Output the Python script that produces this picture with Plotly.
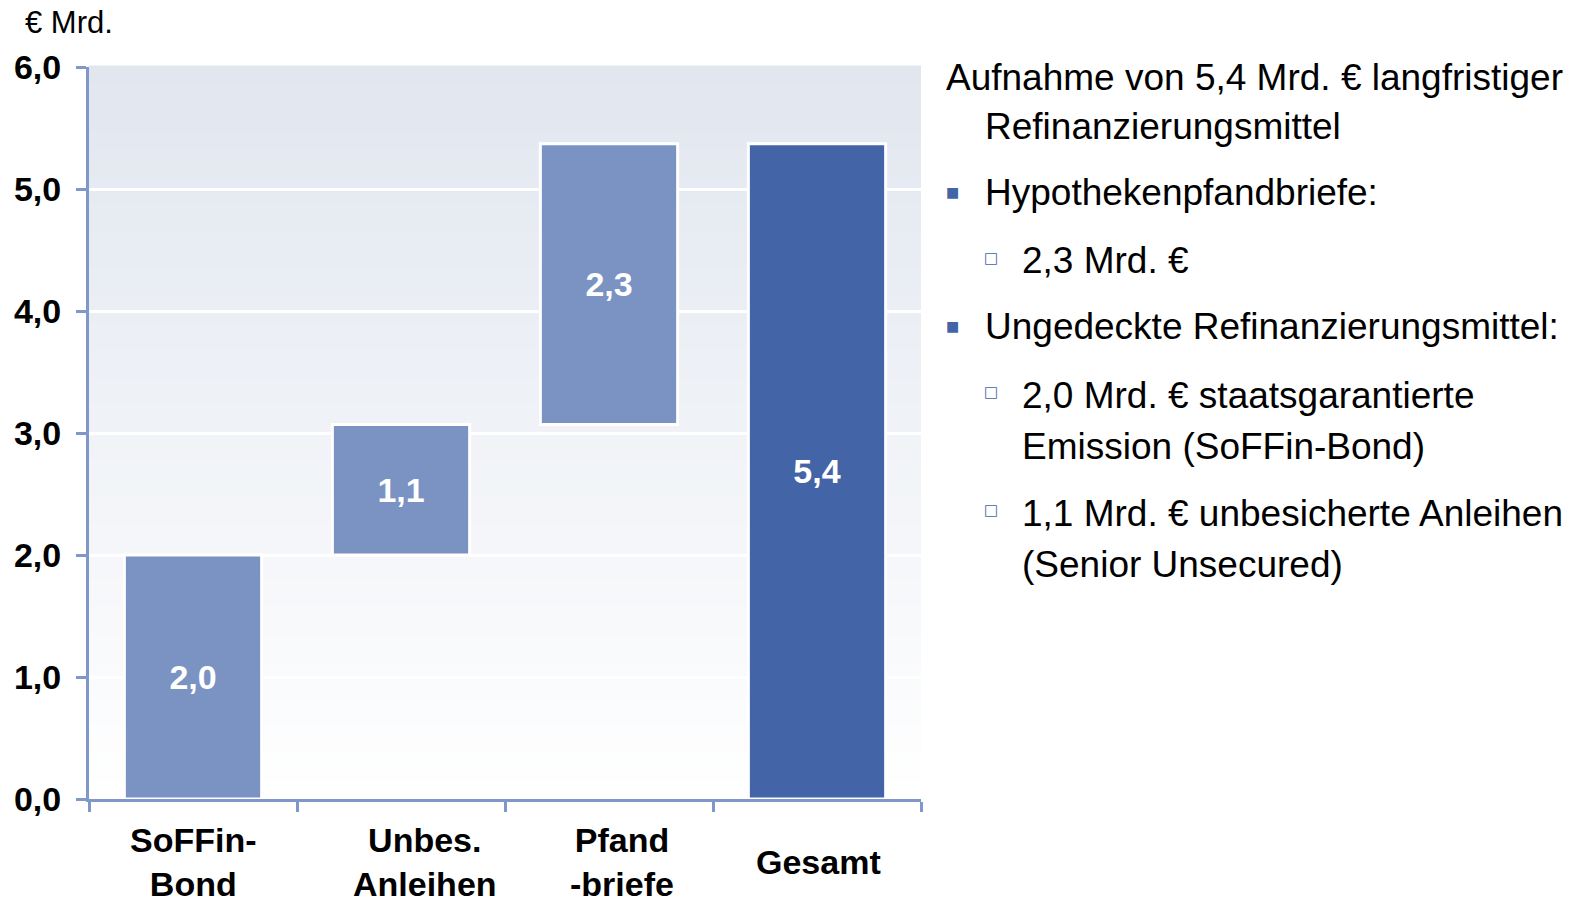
import plotly.graph_objects as go

# ---- data ----
categories = ["SoFFin-Bond", "Unbes. Anleihen", "Pfandbriefe", "Gesamt"]
category_labels = ["SoFFin-<br>Bond", "Unbes.<br>Anleihen", "Pfand<br>-briefe", "Gesamt"]
values = [2.0, 1.07, 2.3, 5.37]
measures = ["relative", "relative", "relative", "total"]
value_labels = ["2,0", "1,1", "2,3", "5,4"]
y_ticks = [0, 1, 2, 3, 4, 5, 6]

unit_label = "€ Mrd."
right_lines = [
    ("head", "Aufnahme von 5,4 Mrd. € langfristiger"),
    ("head2", "Refinanzierungsmittel"),
    ("b1", "Hypothekenpfandbriefe:"),
    ("b2", "2,3 Mrd. €"),
    ("b1", "Ungedeckte Refinanzierungsmittel:"),
    ("b2", "2,0 Mrd. € staatsgarantierte"),
    ("c2", "Emission (SoFFin-Bond)"),
    ("b2", "1,1 Mrd. € unbesicherte Anleihen"),
    ("c2", "(Senior Unsecured)"),
]

# ---- style ----
LIGHT = "#7b93c3"
DARK = "#4364a6"
AXIS = "#7f97c9"
FONT = "Liberation Sans, Arial, sans-serif"
OFF = 8  # page body margin
W, H = 1584 - OFF, 898 - OFF
L, R, T, B = 89 - OFF, 921 - OFF, 67 - OFF, 799 - OFF


def px_x(p):
    return (p - OFF - L) / (R - L)


def px_y(p):
    return (B - (p - OFF)) / (B - T)


fig = go.Figure()
fig.add_trace(go.Waterfall(
    x=categories,
    y=values,
    measure=measures,
    text=value_labels,
    textposition="inside",
    insidetextanchor="middle",
    constraintext="none",
    textfont=dict(family=FONT, size=34, color="white", weight="bold"),
    increasing=dict(marker=dict(color=LIGHT, line=dict(color="white", width=3))),
    decreasing=dict(marker=dict(color=LIGHT, line=dict(color="white", width=3))),
    totals=dict(marker=dict(color=DARK, line=dict(color="white", width=3))),
    connector=dict(visible=False),
    hoverinfo="skip",
    showlegend=False,
))

# gradient background strips (below gridlines)
shapes = []
n = 80
top_rgb = (0xE1, 0xE6, 0xEF)
for i in range(n):
    t0 = i / n
    t1 = (i + 1) / n
    tm = (t0 + t1) / 2
    c = tuple(round(255 + (tc - 255) * tm) for tc in top_rgb)
    shapes.append(dict(
        type="rect", xref="paper", yref="paper",
        x0=0, x1=1, y0=t0, y1=t1 + 0.002,
        fillcolor="rgb(%d,%d,%d)" % c, line=dict(width=0), layer="below",
    ))

annotations = []
# category labels
xshifts = [0, 24, 13, 1]
for cat, lab, xs in zip(categories, category_labels, xshifts):
    annotations.append(dict(
        x=cat, xref="x", y=px_y(862), yref="paper",
        text=lab, showarrow=False, xanchor="center", yanchor="middle",
        xshift=xs, align="center",
        font=dict(family=FONT, size=34, color="black", weight="bold"),
    ))

# unit label
annotations.append(dict(
    x=px_x(23), xref="paper", y=px_y(22), yref="paper",
    text=unit_label, showarrow=False, xanchor="left", yanchor="middle",
    font=dict(family=FONT, size=31, color="black"),
))

# right-hand text
ys = [77, 127, 193, 261, 327, 395, 446, 513, 564]
for (kind, txt), yp in zip(right_lines, ys):
    if kind == "head":
        xl = 944
    elif kind in ("head2", "b1"):
        xl = 983
    else:
        xl = 1020
    annotations.append(dict(
        x=px_x(xl), xref="paper", y=px_y(yp), yref="paper",
        text=txt, showarrow=False, xanchor="left", yanchor="middle",
        font=dict(family=FONT, size=37, color="black"),
    ))
    if kind == "b1":
        annotations.append(dict(
            x=px_x(952), xref="paper", y=px_y(yp - 1), yref="paper",
            text="■", showarrow=False, xanchor="center", yanchor="middle",
            font=dict(family="DejaVu Sans", size=14, color=DARK),
        ))
    elif kind == "b2":
        annotations.append(dict(
            x=px_x(991), xref="paper", y=px_y(yp - 3), yref="paper",
            text="□", showarrow=False, xanchor="center", yanchor="middle",
            font=dict(family="DejaVu Sans", size=15, color=DARK),
        ))

fig.update_layout(
    width=W, height=H,
    margin=dict(l=L, r=W - R, t=T, b=H - B, pad=0, autoexpand=False),
    paper_bgcolor="white",
    plot_bgcolor="white",
    separators=",.",
    waterfallgap=0.34,
    shapes=shapes,
    annotations=annotations,
    xaxis=dict(
        type="category", range=[-0.5, 3.5], automargin=False,
        showline=True, linecolor=AXIS, linewidth=3,
        ticks="outside", tickson="boundaries", ticklen=10, tickwidth=3, tickcolor=AXIS,
        showticklabels=False, showgrid=False, zeroline=False, fixedrange=True,
    ),
    yaxis=dict(
        range=[0, 6], tickvals=y_ticks, tickformat=".1f", automargin=False,
        showline=True, linecolor=AXIS, linewidth=3,
        ticks="outside", ticklen=10, tickwidth=3, tickcolor=AXIS,
        ticklabelstandoff=8,
        tickfont=dict(family=FONT, size=34, color="black", weight="bold"),
        showgrid=True, gridcolor="white", gridwidth=3, zeroline=False, fixedrange=True,
    ),
)

fig.write_html("out.html", config={"displayModeBar": False})
